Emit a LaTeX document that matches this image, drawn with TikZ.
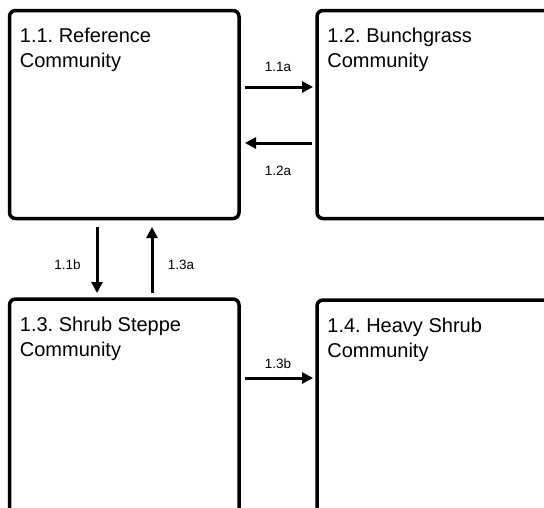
\documentclass[tikz,border=0pt]{standalone}
\usepackage{fontspec}
\setmainfont{Liberation Sans}
\usetikzlibrary{arrows.meta,calc}
\frenchspacing
\begin{document}
\begin{tikzpicture}[x=1pt,y=-1pt,
  box/.style={draw, line width=3.5pt, rounded corners=6pt, outer sep=0pt, inner sep=0pt},
  title/.style={anchor=north west, align=left, inner sep=0pt, font=\fontsize{20}{25}\selectfont},
  lbl/.style={inner sep=0pt, font=\fontsize{13.5}{15}\selectfont},
  arr/.style={line width=3pt, -{Triangle[length=11pt,width=11pt]}}]
\useasboundingbox (0,0) rectangle (544,507);
\clip (0,0) rectangle (544,507);
% state boxes
\node[box, minimum width=229.5pt, minimum height=208pt] (A) at (124.25,114.5) {};
\node[box, minimum width=243pt, minimum height=208pt] (B) at (438.5,114.5) {};
\node[box, minimum width=229.5pt, minimum height=241pt] (C) at (124.25,419.5) {};
\node[box, minimum width=243pt, minimum height=240pt] (D) at (438.5,420) {};
% box titles
\node[title] (At) at ($(A.north west)+(10.2,17.5)$) {1.1. Reference\\Community};
\node[title] (Bt) at ($(B.north west)+(10.2,17.5)$) {1.2. Bunchgrass\\Community};
\node[title] (Ct) at ($(C.north west)+(10.2,17.5)$) {1.3. Shrub Steppe\\Community};
\node[title] (Dt) at ($(D.north west)+(10.2,17.5)$) {1.4. Heavy Shrub\\Community};
% transitions
\draw[arr] ($(A.north east)+(6,76.5)$) -- ($(B.north west)+(-4,76.5)$);
\draw[arr] ($(B.north west)+(-5,132.5)$) -- ($(A.north east)+(6,132.5)$);
\draw[arr] ($(A.south west)+(87.5,8.5)$) -- ($(C.north west)+(87.5,-6)$);
\draw[arr] ($(C.north west)+(142.5,-6)$) -- ($(A.south west)+(142.5,8.5)$);
\draw[arr] ($(C.north east)+(6,79)$) -- ($(D.north west)+(-4,78)$);
% transition labels
\node[lbl] (l11a) at (278,67) {1.1a};
\node[lbl] (l12a) at (278,171) {1.2a};
\node[lbl] (l11b) at (67.5,264.5) {1.1b};
\node[lbl] (l13a) at (181,265) {1.3a};
\node[lbl] (l13b) at (278,363.5) {1.3b};
\end{tikzpicture}
\end{document}
